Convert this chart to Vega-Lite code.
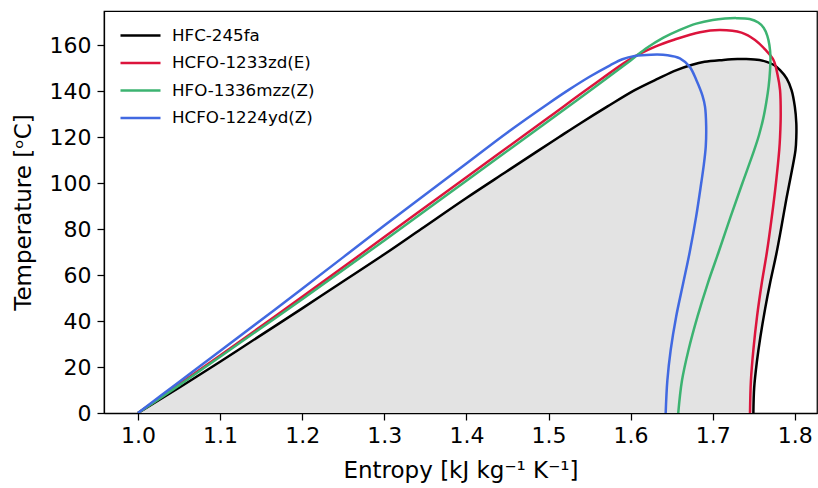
{
  "$schema": "https://vega.github.io/schema/vega-lite/v6.json",
  "width": 713,
  "height": 402,
  "autosize": {"type": "none"},
  "padding": {"left": 104, "top": 11, "right": 1, "bottom": 75},
  "background": "white",
  "config": {
    "view": {"stroke": "black", "strokeWidth": 1.25},
    "font": "DejaVu Sans",
    "axis": {
      "domainColor": "black", "domainWidth": 1.25, "tickColor": "black", "tickWidth": 1.25, "tickSize": 7,
      "labelColor": "black", "labelFont": "DejaVu Sans", "labelFontSize": 22, "labelPadding": 5,
      "titleFont": "DejaVu Sans", "titleFontSize": 23, "titleFontWeight": "normal", "titleColor": "black",
      "grid": false, "labelFlush": false, "labelOverlap": false
    }
  },
  "datasets": {
    "dome": [
      {"T": 0, "sl": 1.0, "sv": 1.7495},
      {"T": 11, "sl": 1.05, "sv": 1.7505},
      {"T": 22.3, "sl": 1.1, "sv": 1.7538},
      {"T": 33, "sl": 1.1461, "sv": 1.758},
      {"T": 45.5, "sl": 1.2, "sv": 1.7639},
      {"T": 56.4, "sl": 1.2464, "sv": 1.7698},
      {"T": 69, "sl": 1.3, "sv": 1.7774},
      {"T": 80, "sl": 1.3449, "sv": 1.7832},
      {"T": 93.5, "sl": 1.4, "sv": 1.7899},
      {"T": 105, "sl": 1.4489, "sv": 1.7962},
      {"T": 114.3, "sl": 1.4885, "sv": 1.8008},
      {"T": 120, "sl": 1.513, "sv": 1.8018},
      {"T": 126, "sl": 1.539, "sv": 1.8018},
      {"T": 133.2, "sl": 1.5714, "sv": 1.8},
      {"T": 140.4, "sl": 1.605, "sv": 1.796},
      {"T": 145.5, "sl": 1.634, "sv": 1.79},
      {"T": 149.1, "sl": 1.656, "sv": 1.782},
      {"T": 151.3, "sl": 1.674, "sv": 1.7747},
      {"T": 152.7, "sl": 1.69, "sv": 1.7657},
      {"T": 153.5, "sl": 1.713, "sv": 1.757},
      {"T": 153.9, "sl": 1.73, "sv": 1.74}
    ],
    "lines": [
      {"n": "HFC-245fa", "i": 1, "s": 1.0, "T": 0},
      {"n": "HFC-245fa", "i": 2, "s": 1.05, "T": 11},
      {"n": "HFC-245fa", "i": 3, "s": 1.1, "T": 22.3},
      {"n": "HFC-245fa", "i": 4, "s": 1.1461, "T": 33},
      {"n": "HFC-245fa", "i": 5, "s": 1.2, "T": 45.5},
      {"n": "HFC-245fa", "i": 6, "s": 1.2464, "T": 56.4},
      {"n": "HFC-245fa", "i": 7, "s": 1.3, "T": 69},
      {"n": "HFC-245fa", "i": 8, "s": 1.3449, "T": 80},
      {"n": "HFC-245fa", "i": 9, "s": 1.4, "T": 93.5},
      {"n": "HFC-245fa", "i": 10, "s": 1.4489, "T": 105},
      {"n": "HFC-245fa", "i": 11, "s": 1.4885, "T": 114.3},
      {"n": "HFC-245fa", "i": 12, "s": 1.513, "T": 120},
      {"n": "HFC-245fa", "i": 13, "s": 1.539, "T": 126},
      {"n": "HFC-245fa", "i": 14, "s": 1.5714, "T": 133.2},
      {"n": "HFC-245fa", "i": 15, "s": 1.605, "T": 140.4},
      {"n": "HFC-245fa", "i": 16, "s": 1.634, "T": 145.5},
      {"n": "HFC-245fa", "i": 17, "s": 1.656, "T": 149.1},
      {"n": "HFC-245fa", "i": 18, "s": 1.674, "T": 151.3},
      {"n": "HFC-245fa", "i": 19, "s": 1.69, "T": 152.7},
      {"n": "HFC-245fa", "i": 20, "s": 1.713, "T": 153.5},
      {"n": "HFC-245fa", "i": 21, "s": 1.73, "T": 153.9},
      {"n": "HFC-245fa", "i": 22, "s": 1.74, "T": 153.9},
      {"n": "HFC-245fa", "i": 23, "s": 1.757, "T": 153.5},
      {"n": "HFC-245fa", "i": 24, "s": 1.7657, "T": 152.7},
      {"n": "HFC-245fa", "i": 25, "s": 1.7747, "T": 151.3},
      {"n": "HFC-245fa", "i": 26, "s": 1.782, "T": 149.1},
      {"n": "HFC-245fa", "i": 27, "s": 1.79, "T": 145.5},
      {"n": "HFC-245fa", "i": 28, "s": 1.796, "T": 140.4},
      {"n": "HFC-245fa", "i": 29, "s": 1.8, "T": 133.2},
      {"n": "HFC-245fa", "i": 30, "s": 1.8018, "T": 126},
      {"n": "HFC-245fa", "i": 31, "s": 1.8018, "T": 120},
      {"n": "HFC-245fa", "i": 32, "s": 1.8008, "T": 114.3},
      {"n": "HFC-245fa", "i": 33, "s": 1.7962, "T": 105},
      {"n": "HFC-245fa", "i": 34, "s": 1.7899, "T": 93.5},
      {"n": "HFC-245fa", "i": 35, "s": 1.7832, "T": 80},
      {"n": "HFC-245fa", "i": 36, "s": 1.7774, "T": 69},
      {"n": "HFC-245fa", "i": 37, "s": 1.7698, "T": 56.4},
      {"n": "HFC-245fa", "i": 38, "s": 1.7639, "T": 45.5},
      {"n": "HFC-245fa", "i": 39, "s": 1.758, "T": 33},
      {"n": "HFC-245fa", "i": 40, "s": 1.7538, "T": 22.3},
      {"n": "HFC-245fa", "i": 41, "s": 1.7505, "T": 11},
      {"n": "HFC-245fa", "i": 42, "s": 1.7495, "T": 0},

      {"n": "HCFO-1233zd(E)", "i": 1, "s": 1.0, "T": 0},
      {"n": "HCFO-1233zd(E)", "i": 2, "s": 1.05, "T": 12.5},
      {"n": "HCFO-1233zd(E)", "i": 3, "s": 1.1, "T": 25},
      {"n": "HCFO-1233zd(E)", "i": 4, "s": 1.2, "T": 50.5},
      {"n": "HCFO-1233zd(E)", "i": 5, "s": 1.3, "T": 76.5},
      {"n": "HCFO-1233zd(E)", "i": 6, "s": 1.4, "T": 102.5},
      {"n": "HCFO-1233zd(E)", "i": 7, "s": 1.5, "T": 128.5},
      {"n": "HCFO-1233zd(E)", "i": 8, "s": 1.55, "T": 141.5},
      {"n": "HCFO-1233zd(E)", "i": 9, "s": 1.6, "T": 154},
      {"n": "HCFO-1233zd(E)", "i": 10, "s": 1.63, "T": 159.3},
      {"n": "HCFO-1233zd(E)", "i": 11, "s": 1.652, "T": 162.2},
      {"n": "HCFO-1233zd(E)", "i": 12, "s": 1.6845, "T": 165.6},
      {"n": "HCFO-1233zd(E)", "i": 13, "s": 1.709, "T": 166.5},
      {"n": "HCFO-1233zd(E)", "i": 14, "s": 1.735, "T": 165.4},
      {"n": "HCFO-1233zd(E)", "i": 15, "s": 1.7515, "T": 162.2},
      {"n": "HCFO-1233zd(E)", "i": 16, "s": 1.764, "T": 158},
      {"n": "HCFO-1233zd(E)", "i": 17, "s": 1.774, "T": 153.5},
      {"n": "HCFO-1233zd(E)", "i": 18, "s": 1.779, "T": 147},
      {"n": "HCFO-1233zd(E)", "i": 19, "s": 1.782, "T": 140.4},
      {"n": "HCFO-1233zd(E)", "i": 20, "s": 1.7828, "T": 130},
      {"n": "HCFO-1233zd(E)", "i": 21, "s": 1.782, "T": 120},
      {"n": "HCFO-1233zd(E)", "i": 22, "s": 1.781, "T": 114.3},
      {"n": "HCFO-1233zd(E)", "i": 23, "s": 1.777, "T": 100},
      {"n": "HCFO-1233zd(E)", "i": 24, "s": 1.772, "T": 85.4},
      {"n": "HCFO-1233zd(E)", "i": 25, "s": 1.766, "T": 70},
      {"n": "HCFO-1233zd(E)", "i": 26, "s": 1.7597, "T": 56.4},
      {"n": "HCFO-1233zd(E)", "i": 27, "s": 1.754, "T": 42},
      {"n": "HCFO-1233zd(E)", "i": 28, "s": 1.7495, "T": 27.4},
      {"n": "HCFO-1233zd(E)", "i": 29, "s": 1.7465, "T": 14},
      {"n": "HCFO-1233zd(E)", "i": 30, "s": 1.7454, "T": 0},

      {"n": "HFO-1336mzz(Z)", "i": 1, "s": 1.0, "T": 0},
      {"n": "HFO-1336mzz(Z)", "i": 2, "s": 1.05, "T": 12},
      {"n": "HFO-1336mzz(Z)", "i": 3, "s": 1.1, "T": 24.5},
      {"n": "HFO-1336mzz(Z)", "i": 4, "s": 1.2, "T": 49.5},
      {"n": "HFO-1336mzz(Z)", "i": 5, "s": 1.3, "T": 75},
      {"n": "HFO-1336mzz(Z)", "i": 6, "s": 1.4, "T": 101},
      {"n": "HFO-1336mzz(Z)", "i": 7, "s": 1.5, "T": 127},
      {"n": "HFO-1336mzz(Z)", "i": 8, "s": 1.55, "T": 140},
      {"n": "HFO-1336mzz(Z)", "i": 9, "s": 1.6, "T": 153.3},
      {"n": "HFO-1336mzz(Z)", "i": 10, "s": 1.62, "T": 158.8},
      {"n": "HFO-1336mzz(Z)", "i": 11, "s": 1.64, "T": 163.2},
      {"n": "HFO-1336mzz(Z)", "i": 12, "s": 1.66, "T": 166.6},
      {"n": "HFO-1336mzz(Z)", "i": 13, "s": 1.68, "T": 169.3},
      {"n": "HFO-1336mzz(Z)", "i": 14, "s": 1.7, "T": 170.9},
      {"n": "HFO-1336mzz(Z)", "i": 15, "s": 1.715, "T": 171.5},
      {"n": "HFO-1336mzz(Z)", "i": 16, "s": 1.729, "T": 171.7},
      {"n": "HFO-1336mzz(Z)", "i": 17, "s": 1.745, "T": 171.3},
      {"n": "HFO-1336mzz(Z)", "i": 18, "s": 1.7555, "T": 169.8},
      {"n": "HFO-1336mzz(Z)", "i": 19, "s": 1.762, "T": 167.5},
      {"n": "HFO-1336mzz(Z)", "i": 20, "s": 1.7665, "T": 164},
      {"n": "HFO-1336mzz(Z)", "i": 21, "s": 1.769, "T": 160},
      {"n": "HFO-1336mzz(Z)", "i": 22, "s": 1.7703, "T": 155},
      {"n": "HFO-1336mzz(Z)", "i": 23, "s": 1.7698, "T": 149},
      {"n": "HFO-1336mzz(Z)", "i": 24, "s": 1.7681, "T": 142},
      {"n": "HFO-1336mzz(Z)", "i": 25, "s": 1.7652, "T": 135},
      {"n": "HFO-1336mzz(Z)", "i": 26, "s": 1.7615, "T": 128},
      {"n": "HFO-1336mzz(Z)", "i": 27, "s": 1.7565, "T": 121},
      {"n": "HFO-1336mzz(Z)", "i": 28, "s": 1.7505, "T": 114.3},
      {"n": "HFO-1336mzz(Z)", "i": 29, "s": 1.7362, "T": 100},
      {"n": "HFO-1336mzz(Z)", "i": 30, "s": 1.7218, "T": 85.4},
      {"n": "HFO-1336mzz(Z)", "i": 31, "s": 1.7072, "T": 70},
      {"n": "HFO-1336mzz(Z)", "i": 32, "s": 1.694, "T": 56.4},
      {"n": "HFO-1336mzz(Z)", "i": 33, "s": 1.6815, "T": 42},
      {"n": "HFO-1336mzz(Z)", "i": 34, "s": 1.6705, "T": 27.4},
      {"n": "HFO-1336mzz(Z)", "i": 35, "s": 1.6625, "T": 14},
      {"n": "HFO-1336mzz(Z)", "i": 36, "s": 1.658, "T": 0},

      {"n": "HCFO-1224yd(Z)", "i": 1, "s": 1.0, "T": 0},
      {"n": "HCFO-1224yd(Z)", "i": 2, "s": 1.05, "T": 13.5},
      {"n": "HCFO-1224yd(Z)", "i": 3, "s": 1.1, "T": 27},
      {"n": "HCFO-1224yd(Z)", "i": 4, "s": 1.2, "T": 54},
      {"n": "HCFO-1224yd(Z)", "i": 5, "s": 1.3, "T": 81.5},
      {"n": "HCFO-1224yd(Z)", "i": 6, "s": 1.4, "T": 108.5},
      {"n": "HCFO-1224yd(Z)", "i": 7, "s": 1.45, "T": 122},
      {"n": "HCFO-1224yd(Z)", "i": 8, "s": 1.5, "T": 134.6},
      {"n": "HCFO-1224yd(Z)", "i": 9, "s": 1.525, "T": 140.6},
      {"n": "HCFO-1224yd(Z)", "i": 10, "s": 1.55, "T": 146.2},
      {"n": "HCFO-1224yd(Z)", "i": 11, "s": 1.575, "T": 151.2},
      {"n": "HCFO-1224yd(Z)", "i": 12, "s": 1.59, "T": 153.8},
      {"n": "HCFO-1224yd(Z)", "i": 13, "s": 1.605, "T": 155.2},
      {"n": "HCFO-1224yd(Z)", "i": 14, "s": 1.625, "T": 155.8},
      {"n": "HCFO-1224yd(Z)", "i": 15, "s": 1.645, "T": 155.6},
      {"n": "HCFO-1224yd(Z)", "i": 16, "s": 1.66, "T": 154.2},
      {"n": "HCFO-1224yd(Z)", "i": 17, "s": 1.672, "T": 150.5},
      {"n": "HCFO-1224yd(Z)", "i": 18, "s": 1.68, "T": 144.8},
      {"n": "HCFO-1224yd(Z)", "i": 19, "s": 1.6875, "T": 138},
      {"n": "HCFO-1224yd(Z)", "i": 20, "s": 1.6906, "T": 133.2},
      {"n": "HCFO-1224yd(Z)", "i": 21, "s": 1.692, "T": 125},
      {"n": "HCFO-1224yd(Z)", "i": 22, "s": 1.6915, "T": 115.8},
      {"n": "HCFO-1224yd(Z)", "i": 23, "s": 1.6888, "T": 107},
      {"n": "HCFO-1224yd(Z)", "i": 24, "s": 1.686, "T": 100},
      {"n": "HCFO-1224yd(Z)", "i": 25, "s": 1.6798, "T": 85.4},
      {"n": "HCFO-1224yd(Z)", "i": 26, "s": 1.672, "T": 70},
      {"n": "HCFO-1224yd(Z)", "i": 27, "s": 1.664, "T": 56.4},
      {"n": "HCFO-1224yd(Z)", "i": 28, "s": 1.6555, "T": 42},
      {"n": "HCFO-1224yd(Z)", "i": 29, "s": 1.6488, "T": 27.4},
      {"n": "HCFO-1224yd(Z)", "i": 30, "s": 1.6447, "T": 14},
      {"n": "HCFO-1224yd(Z)", "i": 31, "s": 1.6427, "T": 0}
    ]
  },
  "layer": [
    {
      "data": {"name": "dome"},
      "mark": {"type": "area", "orient": "horizontal", "color": "#e3e3e3", "opacity": 1, "clip": true},
      "encoding": {
        "y": {"field": "T", "type": "quantitative", "scale": {"domain": [0, 174.8], "nice": false, "zero": false}},
        "x": {"field": "sl", "type": "quantitative", "scale": {"domain": [0.9586, 1.827], "nice": false, "zero": false}},
        "x2": {"field": "sv"}
      }
    },
    {
      "data": {"name": "lines"},
      "mark": {"type": "line", "strokeWidth": 2.5, "interpolate": "catmull-rom", "clip": true},
      "encoding": {
        "x": {
          "field": "s", "type": "quantitative",
          "scale": {"domain": [0.9586, 1.827], "nice": false, "zero": false},
          "axis": {"title": "Entropy [kJ kg⁻¹ K⁻¹]", "values": [1.0, 1.1, 1.2, 1.3, 1.4, 1.5, 1.6, 1.7, 1.8], "format": ".1f", "titlePadding": 13}
        },
        "y": {
          "field": "T", "type": "quantitative",
          "scale": {"domain": [0, 174.8], "nice": false, "zero": false},
          "axis": {"title": "Temperature [ᵒC]", "values": [0, 20, 40, 60, 80, 100, 120, 140, 160], "labelPadding": 6, "titlePadding": 14}
        },
        "color": {
          "field": "n", "type": "nominal",
          "scale": {"domain": ["HFC-245fa", "HCFO-1233zd(E)", "HFO-1336mzz(Z)", "HCFO-1224yd(Z)"], "range": ["#000000", "#dc143c", "#3cb371", "#4169e1"]},
          "legend": {
            "orient": "none", "legendX": 25, "legendY": 13, "title": null,
            "symbolType": "M-2,0H2", "symbolSize": 400, "symbolStrokeWidth": 2.5,
            "labelFontSize": 16.7, "labelFont": "DejaVu Sans", "labelColor": "black", "labelOffset": 20, "rowPadding": 6.5
          }
        },
        "order": {"field": "i", "type": "quantitative"}
      }
    }
  ]
}
